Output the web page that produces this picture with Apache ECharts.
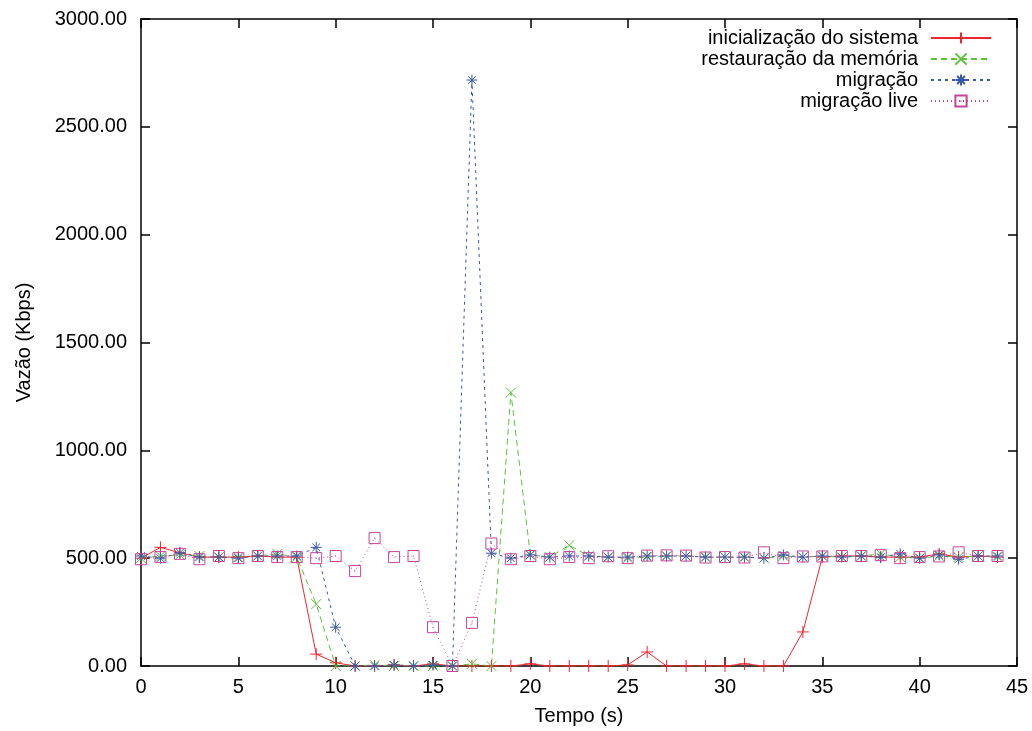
<!DOCTYPE html>
<html>
<head>
<meta charset="utf-8">
<script src="https://cdn.jsdelivr.net/npm/echarts@6/dist/echarts.min.js"></script>
<style>
  html, body { margin: 0; padding: 0; background: #fff; }
  #chart { width: 1032px; height: 731px; }
</style>
</head>
<body>
<div id="chart"></div>
<script>
// eixo x: tempo (s)
var tempo = [0, 1, 2, 3, 4, 5, 6, 7, 8, 9, 10, 11, 12, 13, 14, 15, 16, 17, 18, 19, 20, 21,
  22, 23, 24, 25, 26, 27, 28, 29, 30, 31, 32, 33, 34, 35, 36, 37, 38, 39, 40, 41, 42, 43, 44]

// vazão (Kbps) de cada cenário
var inicializacao = [500, 550, 525, 505, 505, 505, 510, 505, 505, 55, 15, 0, 0, 5, 0, 10, 0, 0, 0, 0, 10, 0,
  0, 0, 0, 5, 65, 0, 0, 0, 0, 10, 0, 0, 158, 505, 510, 510, 505, 505, 505, 520, 505, 510, 505]
var restauracao = [500, 510, 515, 510, 505, 505, 510, 520, 505, 287, 0, 0, 5, 0, 0, 0, 0, 10, 0, 1268, 515, 505,
  560, 510, 505, 500, 505, 510, 510, 505, 505, 505, 500, 510, 505, 510, 505, 510, 520, 505, 500, 510, 505, 510, 505]
var migracao = [510, 500, 525, 505, 505, 500, 510, 510, 510, 550, 180, 0, 0, 5, 0, 5, 0, 2717, 523, 500, 515, 505,
  510, 510, 505, 505, 510, 510, 510, 505, 505, 505, 500, 515, 505, 510, 505, 510, 505, 520, 500, 515, 495, 510, 510]
var migracaoLive = [495, 505, 520, 495, 510, 500, 510, 505, 505, 500, 510, 440, 593, 505, 510, 180, 0, 200, 568, 495, 510, 495,
  505, 500, 509, 500, 512, 513, 512, 503, 505, 503, 527, 500, 508, 508, 510, 510, 514, 500, 505, 508, 527, 510, 510]

var yTicks = [0, 500, 1000, 1500, 2000, 2500, 3000]

function pares(ys) {
  return tempo.map(function (x, i) { return [x, ys[i]] })
}

var FONT = 'Liberation Sans'
var symPlus = 'path://M0,5L10,5M5,0L5,10'
var symCross = 'path://M0,0L10,10M10,0L0,10'
var symStar = 'path://M0,5L10,5M5,0L5,10M1.5,1.5L8.5,8.5M8.5,1.5L1.5,8.5'
var symSquare = 'path://M0,0L10,0L10,10L0,10Z M4.6,5L5.4,5'

function serie(nome, ys, cor, tipo, simbolo, tam) {
  return {
    name: nome,
    type: 'line',
    data: pares(ys),
    symbol: simbolo,
    symbolSize: tam,
    showAllSymbol: true,
    animation: false,
    lineStyle: { color: cor, width: 1, type: tipo },
    itemStyle: { color: 'rgba(0,0,0,0)', borderColor: cor, borderWidth: 1 }
  }
}

function borda() {
  return { show: true, onZero: false, lineStyle: { color: '#000', width: 1.5 } }
}
function tickDentro() {
  return { show: true, inside: true, length: 9, lineStyle: { color: '#000', width: 1.5 } }
}

var chart = echarts.init(document.getElementById('chart'))
chart.setOption({
  backgroundColor: '#fff',
  animation: false,
  grid: { left: 141, right: 15, top: 19, bottom: 64, containLabel: false },
  legend: {
    orient: 'vertical',
    right: 35,
    top: 23,
    align: 'right',
    itemWidth: 60,
    itemHeight: 14,
    itemGap: 1,
    textStyle: { fontFamily: FONT, fontSize: 20, lineHeight: 20, color: '#000', padding: [0, 8, 0, 0] },
    data: ['inicialização do sistema', 'restauração da memória', 'migração', 'migração live']
  },
  xAxis: [{
    type: 'value',
    min: 0, max: 45, interval: 5,
    name: 'Tempo (s)',
    nameLocation: 'middle',
    nameGap: 40,
    nameTextStyle: { fontFamily: FONT, fontSize: 20, color: '#000' },
    axisLine: borda(),
    axisTick: tickDentro(),
    axisLabel: { fontFamily: FONT, fontSize: 20, color: '#000', margin: 11 },
    splitLine: { show: false }
  }, {
    type: 'value',
    position: 'top',
    min: 0, max: 45, interval: 5,
    axisLine: borda(),
    axisTick: tickDentro(),
    axisLabel: { show: false },
    splitLine: { show: false }
  }],
  yAxis: [{
    type: 'value',
    min: yTicks[0], max: yTicks[yTicks.length - 1], interval: 500,
    name: 'Vazão (Kbps)',
    nameLocation: 'middle',
    nameGap: 107,
    nameTextStyle: { fontFamily: FONT, fontSize: 20, color: '#000' },
    axisLine: borda(),
    axisTick: tickDentro(),
    axisLabel: {
      fontFamily: FONT, fontSize: 20, color: '#000', margin: 14,
      formatter: function (v) { return v.toFixed(2) }
    },
    splitLine: { show: false }
  }, {
    type: 'value',
    position: 'right',
    min: yTicks[0], max: yTicks[yTicks.length - 1], interval: 500,
    axisLine: borda(),
    axisTick: tickDentro(),
    axisLabel: { show: false },
    splitLine: { show: false }
  }],
  series: [
    serie('inicialização do sistema', inicializacao, '#f0262e', 'solid', symPlus, 12),
    serie('restauração da memória', restauracao, '#5cc23a', [6, 4], symCross, 10),
    serie('migração', migracao, '#3a58a8', [3, 4], symStar, 11),
    serie('migração live', migracaoLive, '#c4449c', [1, 3], symSquare, 11)
  ]
})
</script>
</body>
</html>
